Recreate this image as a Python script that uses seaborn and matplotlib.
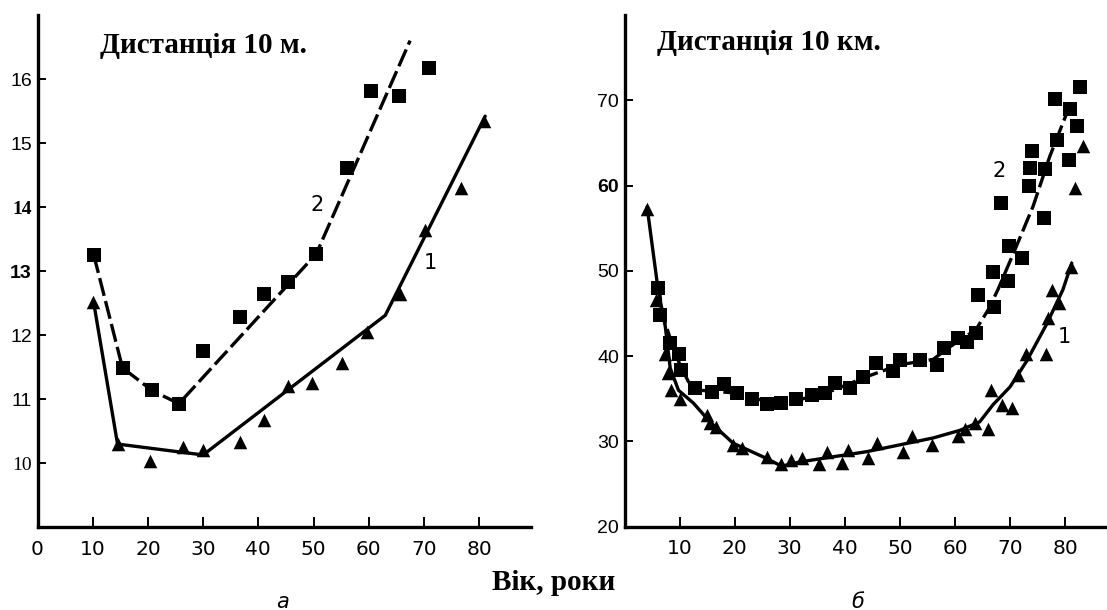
import matplotlib
matplotlib.use("Agg")
import matplotlib.pyplot as plt
import seaborn as sns

# ---------------- Panel "а": distance 10 m ----------------
a_sq_age = [10.2, 15.4, 20.7, 25.6, 29.9, 36.7, 41.1, 45.3, 50.5, 56.0, 60.4, 65.5, 70.9]
a_sq_time = [13.25, 11.49, 11.14, 10.93, 11.75, 12.28, 12.65, 12.83, 13.27, 14.61, 15.82, 15.74, 16.17]
a_tr_age = [10.1, 14.5, 20.3, 26.3, 30.0, 36.6, 41.0, 45.3, 49.7, 55.2, 59.6, 65.7, 70.2, 76.7, 80.8]
a_tr_time = [12.52, 10.30, 10.04, 10.26, 10.21, 10.33, 10.68, 11.21, 11.26, 11.57, 12.05, 12.65, 13.64, 14.30, 15.35]
a_line1_age = [10.1, 14.5, 30.0, 63.0, 81.1]
a_line1_time = [12.55, 10.30, 10.13, 12.31, 15.42]
a_line2_age = [10.2, 15.4, 20.7, 25.6, 50.5, 67.5]
a_line2_time = [13.25, 11.49, 11.14, 10.93, 13.27, 16.60]

# ---------------- Panel "б": distance 10 km ----------------
b_sq_age = [6.1, 6.4, 8.3, 9.9, 10.2, 12.8, 15.8, 18.1, 20.4, 23.1, 25.8, 28.5, 31.1, 34.0,
            36.4, 38.2, 40.9, 43.3, 45.6, 48.8, 50.0, 53.6, 56.7, 58.0, 60.6, 62.1, 63.8, 64.2,
            67.1, 66.9, 69.7, 69.8, 72.1, 68.3, 73.5, 73.7, 73.9, 76.3, 76.2, 78.1, 78.5, 80.9,
            80.7, 82.1, 82.7]
b_sq_time = [48.0, 44.8, 41.5, 40.2, 38.4, 36.3, 35.8, 36.7, 35.7, 35.0, 34.4, 34.5, 35.0, 35.5,
             35.7, 36.8, 36.3, 37.6, 39.2, 38.2, 39.6, 39.6, 39.0, 40.9, 42.1, 41.7, 42.7, 47.2,
             45.8, 49.9, 48.8, 52.9, 51.5, 57.9, 59.9, 62.1, 64.0, 61.9, 56.2, 70.2, 65.4, 69.0,
             63.0, 67.0, 71.5]
b_tr_age = [4.1, 5.7, 7.4, 7.9, 8.4, 10.1, 14.9, 15.5, 16.7, 19.7, 21.3, 25.8, 28.4, 30.3, 32.2,
            35.4, 36.7, 39.4, 40.6, 44.2, 45.9, 50.6, 52.2, 55.9, 60.6, 61.8, 63.6, 66.0, 66.6,
            68.5, 70.3, 71.5, 72.9, 76.6, 76.9, 77.7, 78.9, 81.0, 81.8, 83.3]
b_tr_time = [57.2, 46.6, 40.2, 38.0, 36.0, 35.0, 33.1, 32.2, 31.7, 29.6, 29.2, 28.2, 27.4, 27.8, 28.0,
             27.4, 28.8, 27.5, 29.0, 28.0, 29.8, 28.8, 30.6, 29.6, 30.6, 31.5, 32.2, 31.4, 36.0,
             34.3, 33.9, 37.8, 40.3, 40.2, 44.5, 47.8, 46.2, 50.5, 59.7, 64.6]
b_line1_age = [4.1, 6.1, 7.4, 8.3, 9.8, 12.5, 15.5, 19.7, 25.8, 28.5, 31.9, 37.9, 44.0, 50.0,
               56.0, 60.9, 64.5, 66.9, 70.0, 73.0, 76.6, 79.6, 81.2]
b_line1_time = [57.5, 47.8, 43.5, 38.6, 36.0, 34.5, 32.3, 29.8, 28.0, 27.1, 27.6, 28.2, 28.8, 29.6,
                30.4, 31.3, 32.3, 34.3, 36.4, 39.4, 43.7, 47.8, 50.9]
b_line2_age = [6.2, 6.8, 8.6, 9.8, 11.6, 13.7, 19.7, 25.8, 28.5, 31.9, 37.9, 44.0, 50.0, 56.0,
               59.1, 63.8, 66.0, 67.8, 70.9, 74.2, 77.2, 80.3]
b_line2_time = [48.6, 45.0, 41.5, 39.4, 37.0, 36.0, 35.7, 34.7, 34.6, 34.9, 36.0, 37.6, 39.0, 39.6,
                41.1, 43.1, 45.4, 47.8, 52.5, 57.6, 63.4, 68.5]

a_xticks = [0, 10, 20, 30, 40, 50, 60, 70, 80]
a_yticks = [10, 11, 12, 13, 14, 15, 16]
b_xticks = [10, 20, 30, 40, 50, 60, 70, 80]
b_yticks = [20, 30, 40, 50, 60, 70]

title_a = "Дистанція 10 м."
title_b = "Дистанція 10 км."
xlabel = "Вік, роки"

sns.set_style("ticks")
plt.rcParams["font.family"] = ["DejaVu Sans"]
plt.rcParams["text.color"] = "black"
plt.rcParams["axes.labelcolor"] = "black"
plt.rcParams["xtick.color"] = "black"
plt.rcParams["ytick.color"] = "black"

W, H = 1107, 610
fig = plt.figure(figsize=(W / 100, H / 100), dpi=100)
ax_a = fig.add_axes([37.5 / W, (H - 527.3) / H, 493.5 / W, 512.3 / H])
ax_b = fig.add_axes([624.5 / W, (H - 526.7) / H, 482.5 / W, 511.7 / H])

LW = 2.4


def draw(ax, line1x, line1y, line2x, line2y, sqx, sqy, trx, try_):
    sns.lineplot(x=line1x, y=line1y, sort=False, estimator=None, color="black",
                 linewidth=LW, ax=ax)
    sns.lineplot(x=line2x, y=line2y, sort=False, estimator=None, color="black",
                 linewidth=LW, ax=ax)
    ax.get_lines()[-1].set_dashes((5.5, 1.6))
    sns.scatterplot(x=sqx, y=sqy, marker="s", s=95, color="black", linewidth=0, ax=ax, zorder=3)
    sns.scatterplot(x=trx, y=try_, marker="^", s=95, color="black", linewidth=0, ax=ax, zorder=3)
    for side in ["top", "right"]:
        ax.spines[side].set_visible(False)
    for side in ["left", "bottom"]:
        ax.spines[side].set_linewidth(2.4)
        ax.spines[side].set_color("black")
    ax.tick_params(axis="x", direction="in", length=7.5, width=1.4, pad=9,
                   labelsize=14.5, colors="black")
    ax.tick_params(axis="y", direction="in", length=6, width=1.4, pad=4,
                   labelsize=14, colors="black")
    ax.set_xlabel("")
    ax.set_ylabel("")


draw(ax_a, a_line1_age, a_line1_time, a_line2_age, a_line2_time,
     a_sq_age, a_sq_time, a_tr_age, a_tr_time)
ax_a.set_xlim(0, 89.4)
ax_a.set_ylim(9, 17)
ax_a.set_xticks(a_xticks)
ax_a.set_xticklabels([str(v) for v in a_xticks])
ax_a.set_yticks(a_yticks)
ax_a.set_yticklabels([str(v) for v in a_yticks], family="Liberation Sans")
for lab in ax_a.get_yticklabels():
    t = lab.get_text()
    if t == "14":
        lab.set_fontweight("bold")
        lab.set_family("Liberation Serif")
    elif t == "13":
        lab.set_fontweight("bold")
    elif t == "10":
        lab.set_family("Liberation Serif")
ax_a.text(0.127, 0.925, title_a, transform=ax_a.transAxes, ha="left", va="baseline",
          fontsize=21, fontweight="bold", family="Liberation Serif", color="black")
ax_a.text(50.6, 14.04, "2", ha="center", va="center", fontsize=15)
ax_a.text(71.2, 13.12, "1", ha="center", va="center", fontsize=15)

draw(ax_b, b_line1_age, b_line1_time, b_line2_age, b_line2_time,
     b_sq_age, b_sq_time, b_tr_age, b_tr_time)
ax_b.set_xlim(0, 87.6)
ax_b.set_ylim(20, 80)
ax_b.set_xticks(b_xticks)
ax_b.set_xticklabels([str(v) for v in b_xticks])
ax_b.set_yticks(b_yticks)
ax_b.set_yticklabels([str(v) for v in b_yticks], family="Liberation Sans")
for lab in ax_b.get_yticklabels():
    if lab.get_text() == "60":
        lab.set_fontweight("bold")
ax_b.text(0.0667, 0.932, title_b, transform=ax_b.transAxes, ha="left", va="baseline",
          fontsize=21, fontweight="bold", family="Liberation Serif", color="black")
ax_b.text(68.0, 61.7, "2", ha="center", va="center", fontsize=15)
ax_b.text(79.9, 42.3, "1", ha="center", va="center", fontsize=15)

fig.text(553.5 / W, 1 - 590 / H, xlabel, ha="center", va="baseline",
         fontsize=21, fontweight="bold", family="Liberation Serif", color="black")
fig.text(283 / W, 1 - 602 / H, "а", ha="center", va="center", fontsize=15, style="italic")
fig.text(858 / W, 1 - 602 / H, "б", ha="center", va="center", fontsize=15, style="italic")

fig.savefig("out.png", dpi=100)
